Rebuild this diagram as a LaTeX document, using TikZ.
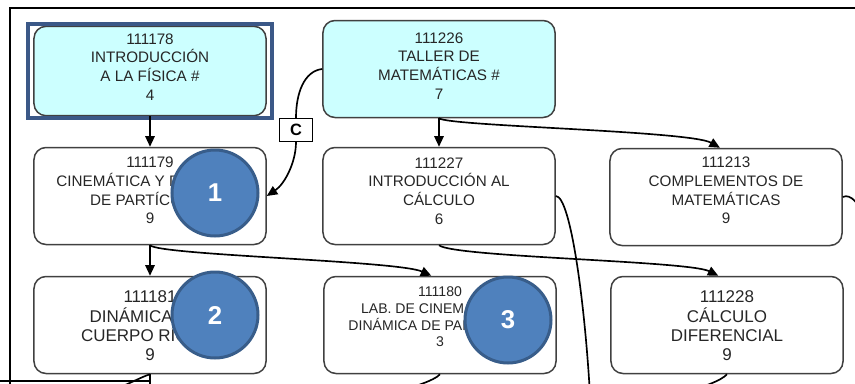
\documentclass[tikz,border=0pt]{standalone}
\usepackage{fontspec}
\setmainfont{Liberation Sans}
\usetikzlibrary{arrows.meta,fit}

\definecolor{boxcyan}{RGB}{204,255,255}
\definecolor{hiliteblue}{RGB}{59,88,135}
\definecolor{calloutfill}{RGB}{79,129,189}
\definecolor{calloutedge}{RGB}{56,93,138}

\begin{document}
\begin{tikzpicture}[x=0.03cm, y=-0.03cm,
  course/.style={draw=black!75, line width=0.045cm, rounded corners=0.36cm, minimum width=6.96cm, minimum height=2.91cm, inner sep=0pt},
  txt/.style={align=center, text=black!85, inner sep=0pt, font=\fontsize{13pt}{16pt}\selectfont},
  bigtxt/.style={txt, font=\fontsize{14.5pt}{16.5pt}\selectfont},
  smalltxt/.style={txt, font=\fontsize{12pt}{14.2pt}\selectfont},
  hilite/.style={draw=hiliteblue, line width=0.12cm, inner xsep=0.16cm, inner ysep=0.04cm},
  callout/.style={circle, draw=calloutedge, fill=calloutfill, line width=0.09cm, minimum size=2.58cm, text=white, font=\fontsize{22pt}{24pt}\selectfont\bfseries},
  tag/.style={draw=black, fill=white, line width=0.035cm, minimum width=0.99cm, minimum height=0.69cm, inner sep=0pt, font=\fontsize{14pt}{16pt}\selectfont\bfseries},
  line/.style={black, line width=0.05cm},
  conn/.style={line, -{Triangle[width=8pt, length=9pt]}},
  frame/.style={black, line width=0.06cm}]
\clip (0, 0) rectangle (855, 383);

\draw [frame] (855, 8) -- (10, 8) -- (10, 390);

\node [course, fill=boxcyan, minimum height=2.68cm] (c178) at (150, 71) {};
\node [txt] (c178t) at (150, 67) {111178\\INTRODUCCIÓN\\A LA FÍSICA \#\\4};
\node [hilite, fit=(c178)] (hl178) {};

\node [course, fill=boxcyan] (c226) at (439, 69) {};
\node [txt] (c226t) at (439, 66) {111226\\TALLER DE\\MATEMÁTICAS \#\\7};

\node [course] (c179) at (150, 196) {};
\node [txt] (c179t) at (150, 190.5) {111179\\CINEMÁTICA Y DINÁMICA\\DE PARTÍCULAS\\9};

\node [course] (c227) at (439, 196) {};
\node [txt] (c227t) at (439, 191) {111227\\INTRODUCCIÓN AL\\CÁLCULO\\6};

\node [course] (c213) at (726, 197) {};
\node [txt] (c213t) at (726, 190.5) {111213\\COMPLEMENTOS DE\\MATEMÁTICAS\\9};

\node [course] (c181) at (150, 325) {};
\node [bigtxt] (c181t) at (150, 326) {111181\\DINÁMICA DEL\\CUERPO RÍGIDO\\9};

\node [course] (c180) at (440, 325) {};
\node [smalltxt] (c180t) at (440, 317) {111180\\LAB. DE CINEMÁTICA Y\\DINÁMICA DE PARTÍCULAS\\3};

\node [course] (c228) at (727, 325) {};
\node [bigtxt] (c228t) at (727, 326) {111228\\CÁLCULO\\DIFERENCIAL\\9};

\node [tag] (lblC) at (296, 130) {C};

\draw [conn] (c178.south) -- (c179.north);
\draw [line] (c226.west) .. controls +(-18, 2) and +(0, -25) .. (lblC.north);
\draw [conn] (lblC.south) .. controls +(0, 20) and +(18, -12) .. (c179.east);
\draw [conn] (c226.south) -- (c227.north);
\draw [conn] (c226.south) .. controls +(10, 8) and +(-30, -17) .. (c213.97);
\draw [conn] (c179.south) -- (c181.north);
\draw [conn] (c179.south) .. controls +(10, 10) and +(-33, -15) .. (c180.100);
\draw [conn] (c227.south) .. controls +(15, 12) and +(-30, -15) .. (c228.100);

\coordinate (offD) at (590, 395);
\coordinate (offE) at (862, 215);
\coordinate (offF1) at (150, 395);
\coordinate (offF2) at (105, 392);
\coordinate (offG) at (390, 392);
\coordinate (offH) at (680, 392);
\coordinate (offL) at (0, 381);
\coordinate (offM) at (150, 381);
\draw [line] (c227.east) .. controls +(15, 0) and +(-5, -90) .. (offD);
\draw [line] (c213.east) .. controls +(8, -4) and +(-2, -10) .. (offE);
\draw [line] (c181.south) -- (offF1);
\draw [line] (c181.south) .. controls +(-10, 3) and +(15, -3) .. (offF2);
\draw [line] (offL) -- (offM);
\draw [line] (c180.south) .. controls +(-5, 6) and +(20, -3) .. (offG);
\draw [line] (c228.south) .. controls +(-5, 6) and +(20, -3) .. (offH);

\node [callout] (call1) at (215, 193) {1};
\node [callout] (call2) at (215, 315) {2};
\node [callout] (call3) at (508, 320) {3};
\end{tikzpicture}
\end{document}
